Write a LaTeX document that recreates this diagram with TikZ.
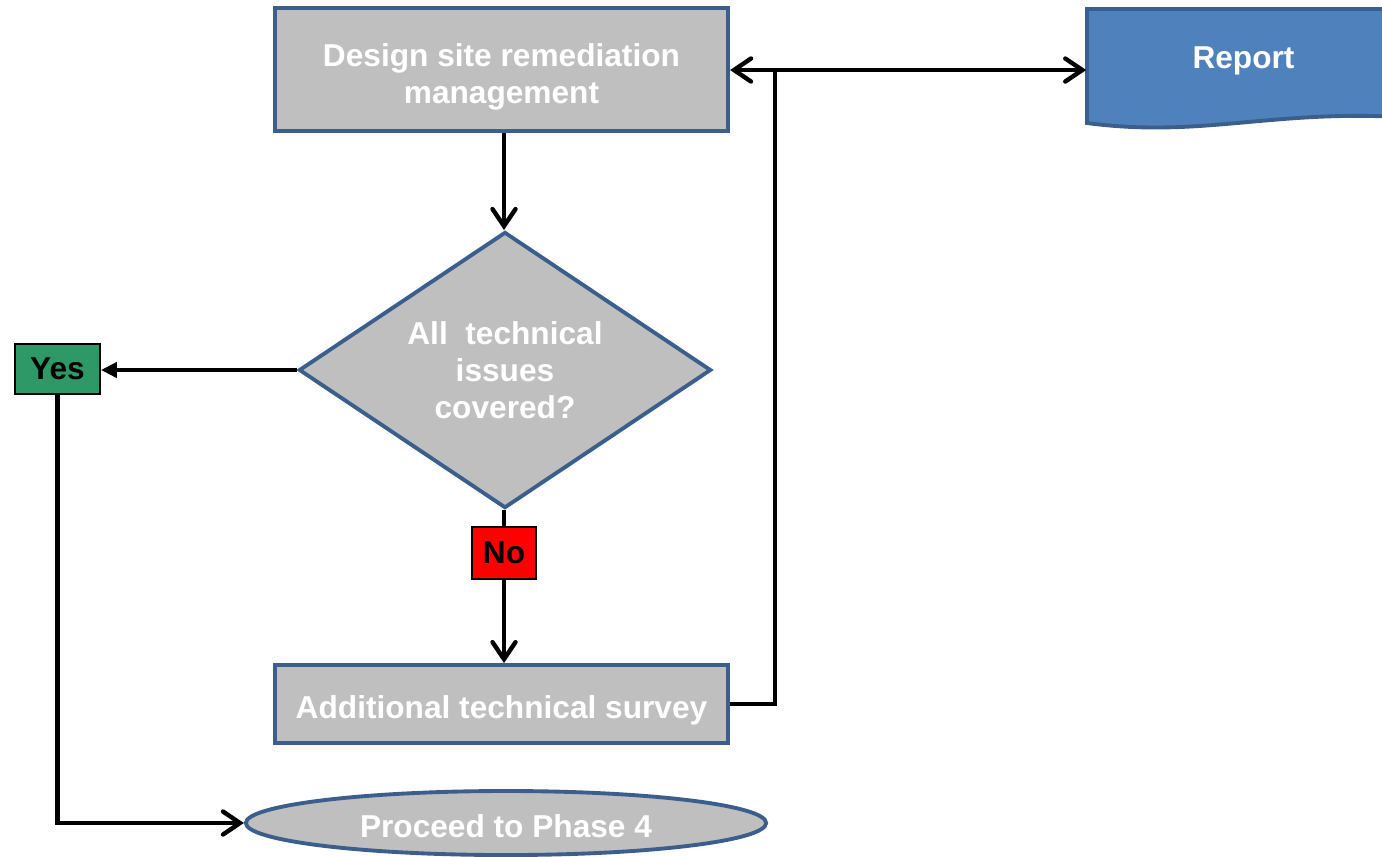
\documentclass[tikz,border=0pt]{standalone}
\usepackage{fontspec}
\setmainfont{Liberation Sans}
\usetikzlibrary{shapes.geometric,arrows.meta}
\definecolor{boxgray}{HTML}{BFBFBF}
\definecolor{boxedge}{HTML}{3B5E8C}
\definecolor{repfill}{HTML}{4F81BD}
\definecolor{yesgreen}{HTML}{2E9966}
\tikzset{
  x=0.01cm, y=-0.01cm,
  every node/.style={font=\fontsize{9}{10.6}\selectfont\bfseries, align=center},
  procbox/.style={rectangle, draw=boxedge, fill=boxgray, line width=1.1pt, text=white, inner sep=0pt},
  decision/.style={diamond, aspect=1.493, draw=boxedge, fill=boxgray, line width=1.1pt, text=white, inner sep=0pt, minimum width=4.12cm, minimum height=2.76cm},
  terminal/.style={ellipse, draw=boxedge, fill=boxgray, line width=1.1pt, text=white, inner sep=0pt, minimum width=5.2cm, minimum height=0.64cm},
  tagbox/.style={rectangle, draw=black, line width=0.5pt, text=black, inner sep=0pt},
  conn/.style={line width=1.25pt, draw=black},
  barb/.style={conn, -{Straight Barb[length=1.7mm, width=2.3mm, line cap=round]}},
  tri/.style={conn, -{Triangle[length=1.6mm, width=1.5mm]}},
}
\begin{document}
\begin{tikzpicture}
\useasboundingbox (0,0) rectangle (1382,856);
\clip (0,0) rectangle (1382,856);
% report document shape
\fill[repfill] (1087,9) -- (1400,9) -- (1400,117)
  .. controls (1270,110) and (1200,138) .. (1087,123) -- cycle;
\draw[boxedge, line width=1.1pt] (1400,9) -- (1087,9) -- (1087,123)
  .. controls (1200,138) and (1270,110) .. (1400,117);
\node[text=white, minimum width=3.13cm, minimum height=0.98cm, inner sep=0pt] (report) at (1243.5,61) {Report};
% nodes
\node[procbox, minimum width=4.53cm, minimum height=1.23cm] (top) at (501.5,69.5) {\rule{0pt}{3.8mm}Design site remediation\\management};
\node[decision] (dec) at (505,370) {All\ \ technical\\issues\\covered?};
\node[tagbox, fill=yesgreen, minimum width=0.85cm, minimum height=0.50cm] (yes) at (57.5,369) {Yes};
\node[tagbox, fill=red, minimum width=0.64cm, minimum height=0.52cm] (no) at (504,553) {No};
\node[procbox, minimum width=4.53cm, minimum height=0.78cm] (add) at (501.5,704) {\rule{0pt}{3.6mm}Additional technical survey};
\node[terminal] (proc) at (506,823) {\rule{0pt}{2.9mm}Proceed to Phase 4};
% junction
\coordinate (j) at (775,70);
% connectors
\draw[barb] (no.north |- top.south) -- (no.north |- dec.north);
\draw[tri] (dec.west) -- (dec.west -| yes.east);
\draw[barb] (yes.south) |- (proc.west);
\draw[conn] (no.north |- dec.south) -- (no.north);
\draw[barb] (no.south) -- (no.south |- add.north);
\draw[conn] (add.east) -- (add.east -| j) -- (j);
\draw[barb] (j) -- (j -| top.east);
\draw[barb] (j) -- (j -| report.west);
\end{tikzpicture}
\end{document}
